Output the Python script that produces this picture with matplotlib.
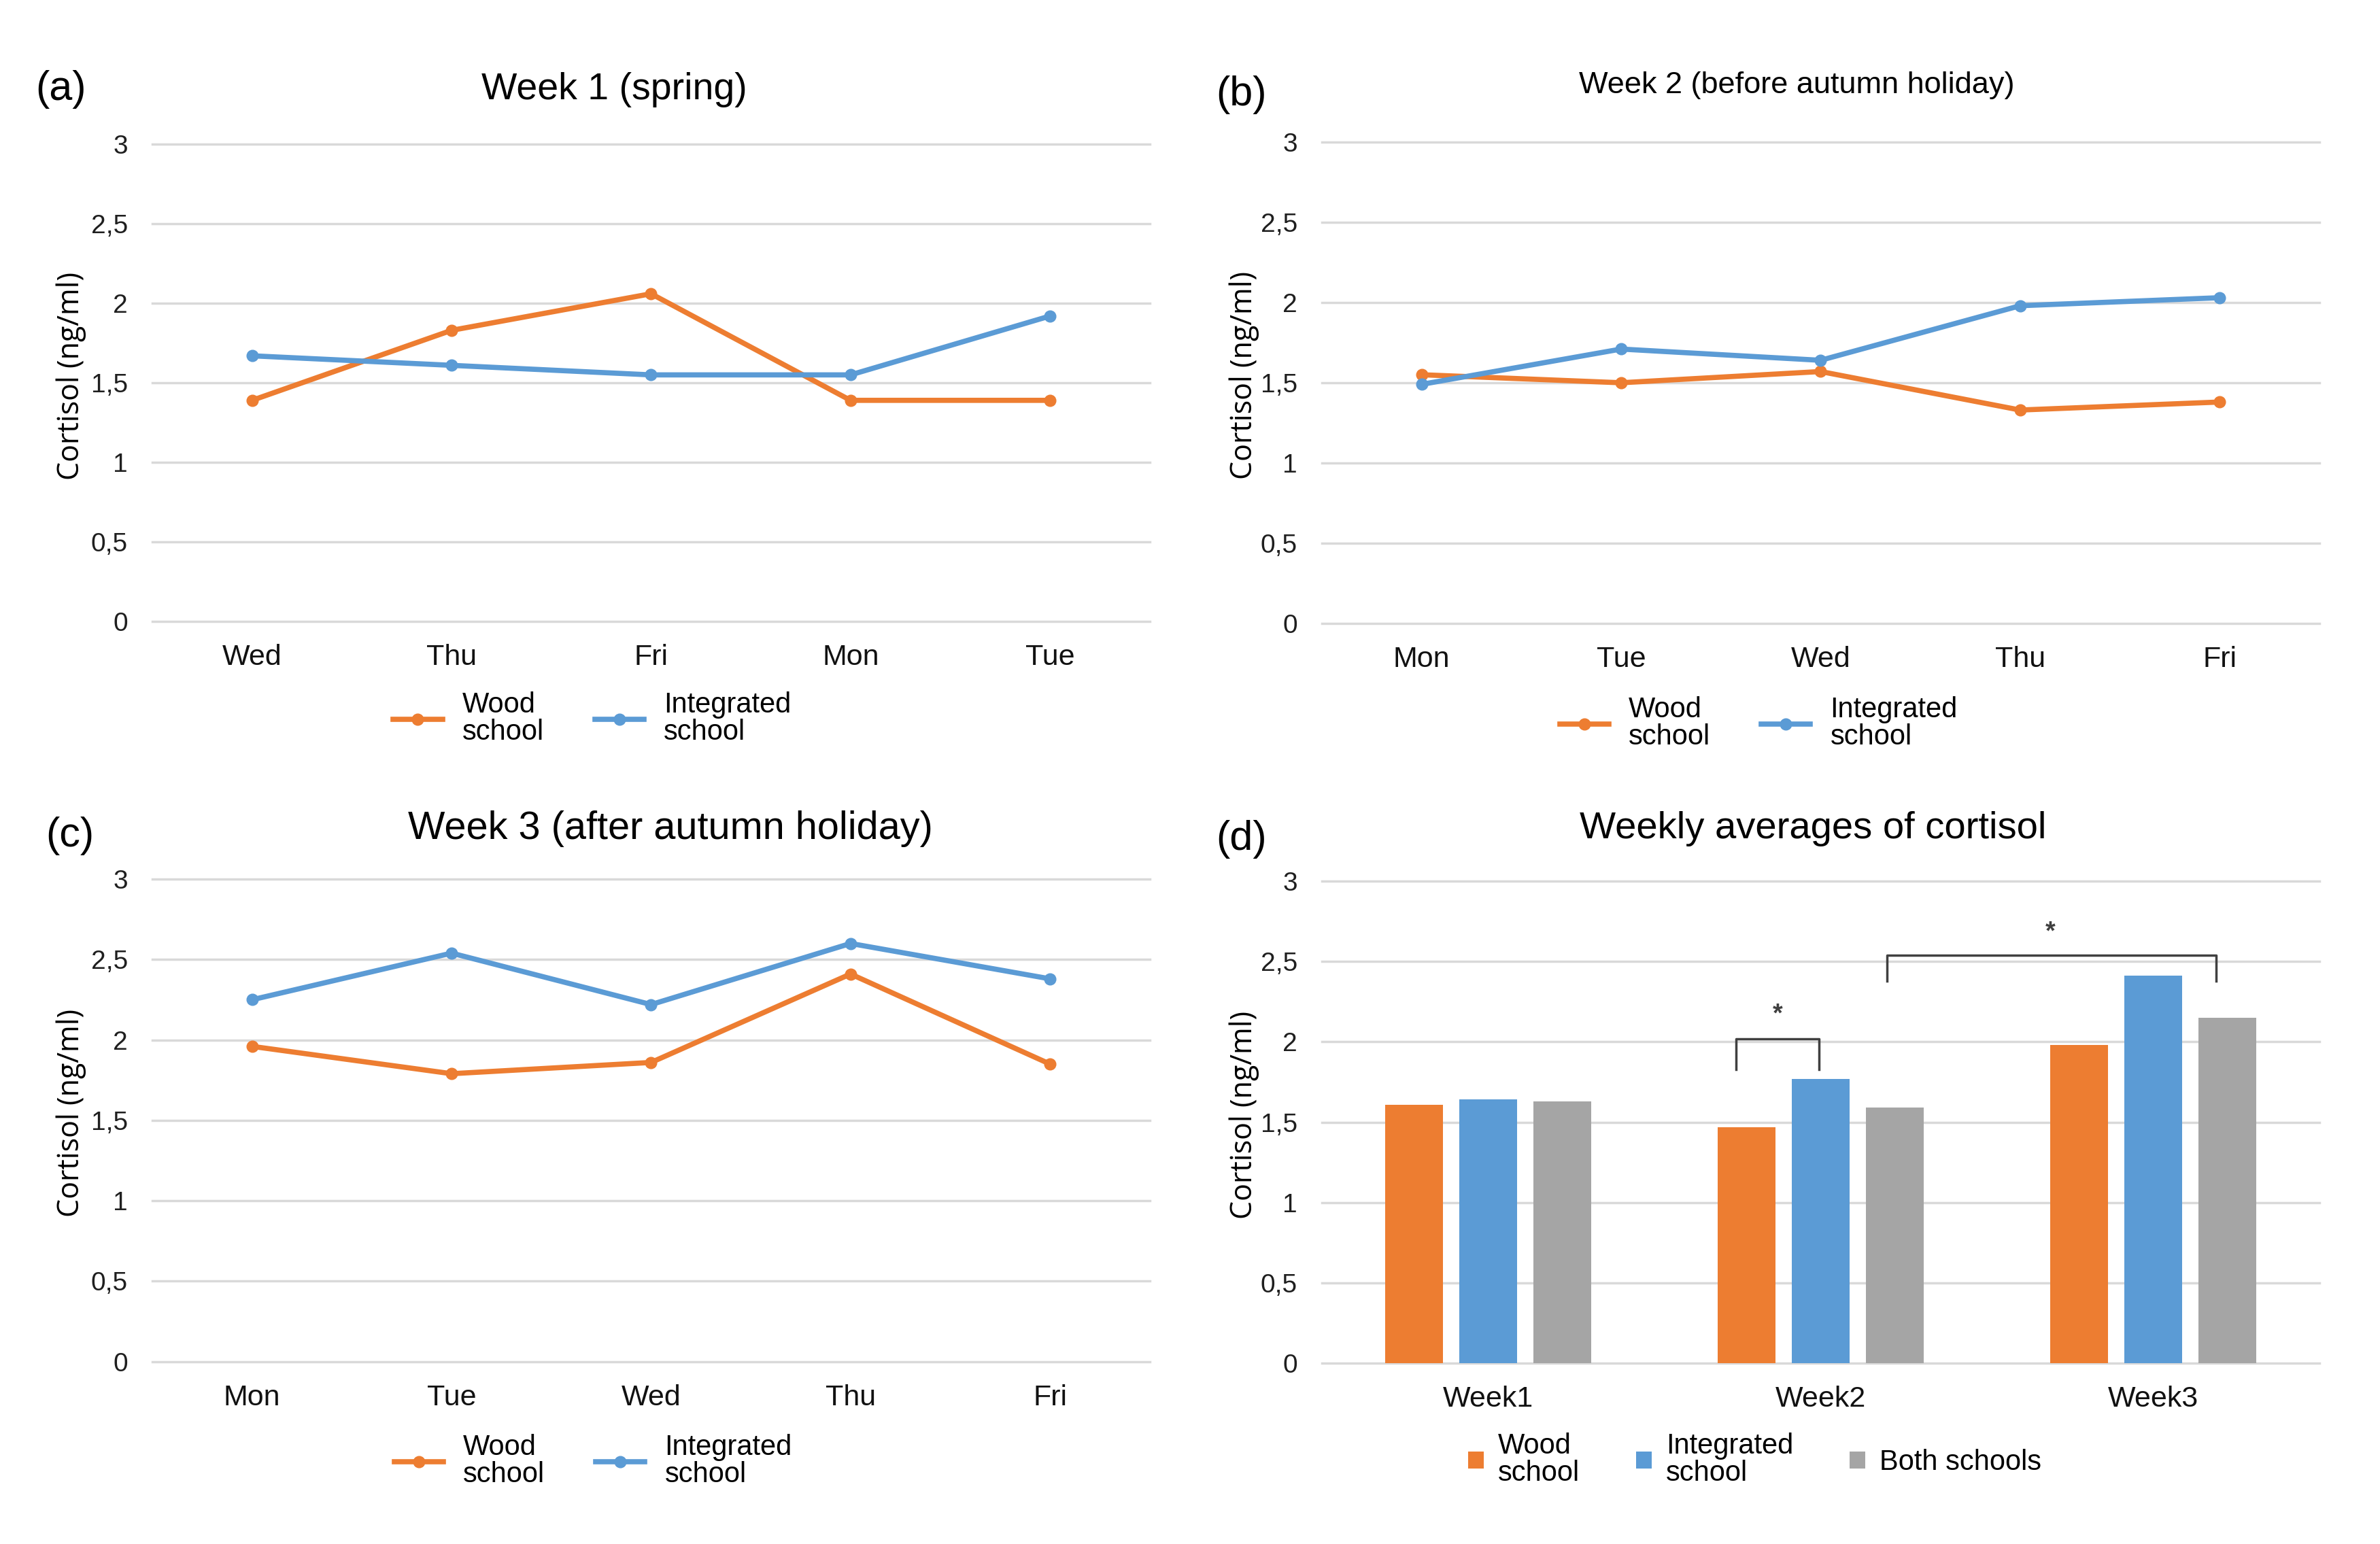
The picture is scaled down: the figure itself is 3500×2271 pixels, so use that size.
import numpy as np
import matplotlib
matplotlib.use("Agg")
import matplotlib.pyplot as plt

# Dados (cortisol em ng/ml)
days_w1 = ["Wed", "Thu", "Fri", "Mon", "Tue"]
wood_w1 = [1.39, 1.83, 2.06, 1.39, 1.39]
integ_w1 = [1.67, 1.61, 1.55, 1.55, 1.92]

days_w2 = ["Mon", "Tue", "Wed", "Thu", "Fri"]
wood_w2 = [1.55, 1.50, 1.57, 1.33, 1.38]
integ_w2 = [1.49, 1.71, 1.64, 1.98, 2.03]

days_w3 = ["Mon", "Tue", "Wed", "Thu", "Fri"]
wood_w3 = [1.96, 1.79, 1.86, 2.41, 1.85]
integ_w3 = [2.25, 2.54, 2.22, 2.60, 2.38]

weeks = ["Week1", "Week2", "Week3"]
wood_avg = [1.61, 1.47, 1.98]
integ_avg = [1.64, 1.77, 2.41]
both_avg = [1.63, 1.59, 2.15]

yticks = [0, 0.5, 1, 1.5, 2, 2.5, 3]
ytick_labels = ["0", "0,5", "1", "1,5", "2", "2,5", "3"]

ORANGE = "#ED7D31"
BLUE = "#5B9BD5"
GRAY = "#A5A5A5"
GRID = "#D9D9D9"
TXT = ["Liberation Sans", "DejaVu Sans"]


def style_axis(ax, labels):
    ax.set_ylim(0, 3)
    ax.set_xlim(-0.5, len(labels) - 0.5)
    ax.set_xticks(range(len(labels)))
    ax.set_xticklabels(labels, fontsize=31, family=TXT, color="#111111")
    ax.set_yticks(yticks)
    ax.set_yticklabels(ytick_labels, fontsize=28, family=TXT, color="#1f1f1f")
    ax.tick_params(axis="both", length=0)
    ax.tick_params(axis="x", pad=24)
    ax.tick_params(axis="y", pad=26)
    for s in ax.spines.values():
        s.set_visible(False)
    ax.grid(axis="y", color=GRID, linewidth=2.5)
    ax.set_axisbelow(True)
    for gl in ax.get_ygridlines():
        gl.set_clip_on(False)
    ax.set_ylabel("Cortisol (ng/ml)", fontsize=31, family=["Open Sans", "DejaVu Sans"])
    ax.yaxis.label.set_verticalalignment("center")


def line_panel(ax, days, wood, integ):
    x = np.arange(len(days))
    ax.plot(x, wood, color=ORANGE, lw=5.5, marker="o", ms=12, label="Wood\nschool",
            solid_joinstyle="round", clip_on=False)
    ax.plot(x, integ, color=BLUE, lw=5.5, marker="o", ms=12, label="Integrated\nschool",
            solid_joinstyle="round", clip_on=False)
    style_axis(ax, days)


fig = plt.figure(figsize=(35, 22.71), dpi=100)

ax_a = fig.add_axes([0.0640, 0.5975, 0.4191, 0.3091])
ax_b = fig.add_axes([0.5554, 0.5962, 0.4191, 0.3118])
ax_c = fig.add_axes([0.0640, 0.1182, 0.4191, 0.3124])
ax_d = fig.add_axes([0.5554, 0.1171, 0.4191, 0.3122])

line_panel(ax_a, days_w1, wood_w1, integ_w1)
line_panel(ax_b, days_w2, wood_w2, integ_w2)
line_panel(ax_c, days_w3, wood_w3, integ_w3)

# Painel (d) - barras das medias semanais
xb = np.arange(len(weeks))
step = 0.223
bw = 0.173
ax_d.bar(xb - step, wood_avg, bw, color=ORANGE, label="Wood\nschool")
ax_d.bar(xb, integ_avg, bw, color=BLUE, label="Integrated\nschool")
ax_d.bar(xb + step, both_avg, bw, color=GRAY, label="Both schools")
style_axis(ax_d, weeks)

# Colchetes de significancia
br = "#404040"
ax_d.plot([0.745, 0.745, 0.995, 0.995], [1.83, 2.02, 2.02, 1.83], color=br, lw=2.5)
ax_d.text(0.87, 2.17, "*", ha="center", va="center", fontsize=27, color=br, family=TXT,
          fontweight="bold")
ax_d.plot([1.20, 1.20, 2.19, 2.19], [2.38, 2.54, 2.54, 2.38], color=br, lw=2.5)
ax_d.text(1.69, 2.68, "*", ha="center", va="center", fontsize=27, color=br, family=TXT,
          fontweight="bold")

# Rotulos do eixo y
for ax, lx in [(ax_a, -0.081), (ax_b, -0.078), (ax_c, -0.081), (ax_d, -0.078)]:
    ax.yaxis.set_label_coords(lx, 0.515)

# Legendas
leg_kw = dict(loc="center", frameon=False, prop={"family": TXT, "size": 30},
              borderpad=0, labelspacing=0.3)
legs = []
for ax, lx, ly in [(ax_a, 0.441, -0.204), (ax_b, 0.438, -0.207), (ax_c, 0.442, -0.2065)]:
    legs.append(ax.legend(bbox_to_anchor=(lx, ly), ncol=2, handlelength=1.73,
                          handletextpad=0.7, columnspacing=1.8, **leg_kw))
legs.append(ax_d.legend(bbox_to_anchor=(0.434, -0.200), ncol=3, handlelength=0.55,
                        handleheight=0.55, handletextpad=0.5, columnspacing=2.0, **leg_kw))
for leg in legs:
    for t in leg.get_texts():
        t.set_linespacing(1.0)

# Titulos
fig.text(903 / 3500, 1 - 132 / 2271, "Week 1 (spring)", ha="center", va="center",
         fontsize=40, family=TXT)
fig.text(2642 / 3500, 1 - 125 / 2271, "Week 2 (before autumn holiday)", ha="center",
         va="center", fontsize=32.5, family=TXT)
fig.text(986 / 3500, 1 - 1219 / 2271, "Week 3 (after autumn holiday)", ha="center",
         va="center", fontsize=41.5, family=TXT)
fig.text(2666 / 3500, 1 - 1219 / 2271, "Weekly averages of cortisol", ha="center",
         va="center", fontsize=40.5, family=TXT)

# Letras dos paineis
for lab, px, py in [("(a)", 89, 131), ("(b)", 1826, 139), ("(c)", 103, 1230), ("(d)", 1826, 1234)]:
    fig.text(px / 3500, 1 - py / 2271, lab, ha="center", va="center", fontsize=44, family=TXT)

fig.savefig("out.png", dpi=100, facecolor="white")
